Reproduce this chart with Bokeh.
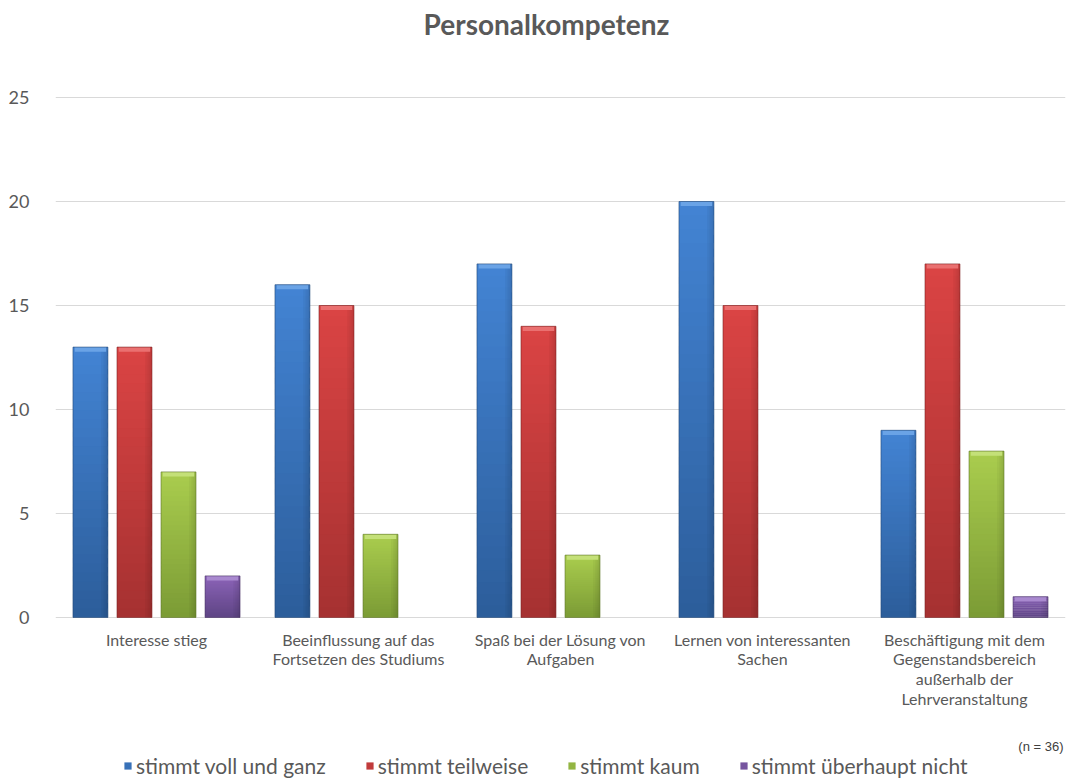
from bokeh.plotting import figure
from bokeh.models import (FactorRange, Range1d, ColumnDataSource, Legend, LegendItem,
                          Label, FixedTicker)
from bokeh.core.properties import value
from bokeh.transform import dodge
from bokeh.embed import file_html
from bokeh.resources import INLINE

# --- data -----------------------------------------------------------------
chart_title = "Personalkompetenz"
categories = [
    "Interesse stieg",
    "Beeinflussung auf das\nFortsetzen des Studiums",
    "Spaß bei der Lösung von\nAufgaben",
    "Lernen von interessanten\nSachen",
    "Beschäftigung mit dem\nGegenstandsbereich\naußerhalb der\nLehrveranstaltung",
]
series_names = ["stimmt voll und ganz", "stimmt teilweise", "stimmt kaum", "stimmt überhaupt nicht"]
stimmt_voll = [13, 16, 17, 20, 9]
stimmt_teilweise = [13, 15, 14, 15, 17]
stimmt_kaum = [7, 4, 3, 0, 8]
stimmt_nicht = [2, 0, 0, 0, 1]
y_ticks = [0, 5, 10, 15, 20, 25]
sample_note = "(n = 36)"

series_values = [stimmt_voll, stimmt_teilweise, stimmt_kaum, stimmt_nicht]
# (top colour, bottom colour, bevel colour, edge colour)
palette = [
    ("#4384d4", "#2c5d9a", "#6aa3e6", "#23497a"),
    ("#db4444", "#a53131", "#ea7070", "#7d2222"),
    ("#aacd4e", "#7b9b35", "#c4e078", "#5d7526"),
    ("#8c64b8", "#5e4484", "#a989cf", "#452f63"),
]

FONT = "Lato"
GREY = "#595959"

BAR_W = 0.173
STEP = 0.218
N_SLICES = 30

# value axis: 0..25 occupies 520 px; headroom above holds the title,
# the space below zero holds category names, note and legend
PX_PER_UNIT = 520 / 25
Y_TOP = 25 + 97 / PX_PER_UNIT
Y_BOTTOM = -163 / PX_PER_UNIT


def lerp_hex(c1, c2, t):
    a = [int(c1[i:i + 2], 16) for i in (1, 3, 5)]
    b = [int(c2[i:i + 2], 16) for i in (1, 3, 5)]
    return "#" + "".join(f"{round(x + (y - x) * t):02x}" for x, y in zip(a, b))


p = figure(
    frame_width=1010, frame_height=780,
    x_range=FactorRange(*categories), y_range=Range1d(Y_BOTTOM, Y_TOP),
    output_backend="svg", toolbar_location=None,
    min_border_left=55, min_border_right=10, min_border_top=0, min_border_bottom=0,
    background_fill_color="white", border_fill_color="white",
)
p.outline_line_color = None

p.add_layout(Label(x=len(categories) / 2, y=Y_TOP - 23 / PX_PER_UNIT, x_offset=-14,
                   text=chart_title, text_align="center", text_baseline="middle",
                   text_font=FONT, text_font_size="28px", text_font_style="bold",
                   text_color=GREY))

legend_items = []
for s, (name, vals, cols) in enumerate(zip(series_names, series_values, palette)):
    top_c, bot_c, bevel_c, edge_c = cols
    offset = (s - 1.5) * STEP
    # vertical colour gradient built from overlapping slices of each bar
    xs, bottoms, tops, colors = [], [], [], []
    for cat, v in zip(categories, vals):
        for k in range(N_SLICES):
            xs.append(cat)
            bottoms.append(v * k / N_SLICES)
            tops.append(min(v * (k + 1.6) / N_SLICES, v))
            colors.append(lerp_hex(bot_c, top_c, (k + 0.5) / N_SLICES))
    src = ColumnDataSource(dict(cat=xs, bottom=bottoms, top=tops, color=colors))
    r = p.vbar(x=dodge("cat", offset, range=p.x_range), bottom="bottom", top="top",
               width=BAR_W, fill_color="color", line_color=None, source=src)

    bar_src = ColumnDataSource(dict(cat=categories, value=vals,
                                    bevel=[max(v - 0.22, 0) for v in vals],
                                    edge_alpha=[0.6 if v > 0 else 0.0 for v in vals]))
    # darker right-hand shading
    for j, a in enumerate([0.03, 0.06, 0.09, 0.12]):
        strip = BAR_W * 0.2 / 4
        p.vbar(x=dodge("cat", offset + BAR_W / 2 - 0.2 * BAR_W + strip * (j + 0.5), range=p.x_range),
               bottom=0, top="value", width=strip, fill_color="black", fill_alpha=a,
               line_color=None, source=bar_src)
    # top bevel highlight
    p.vbar(x=dodge("cat", offset, range=p.x_range), bottom="bevel", top="value",
           width=BAR_W * 0.9, fill_color=bevel_c, line_color=None, source=bar_src)
    # outline (none for empty bars)
    p.vbar(x=dodge("cat", offset, range=p.x_range), bottom=0, top="value",
           width=BAR_W, fill_color=None, line_color=edge_c, line_alpha="edge_alpha",
           line_width=1, source=bar_src)
    legend_items.append(LegendItem(label=name, renderers=[r], index=N_SLICES // 2))

# value axis
p.yaxis.ticker = FixedTicker(ticks=y_ticks)
p.yaxis.axis_line_color = None
p.yaxis.major_tick_line_color = None
p.yaxis.minor_tick_line_color = None
p.yaxis.major_label_text_font = FONT
p.yaxis.major_label_text_font_size = "18px"
p.yaxis.major_label_text_color = GREY
p.yaxis.major_label_standoff = 20

# category names under the zero line
p.xaxis.visible = False
cat_src = ColumnDataSource(dict(cat=categories, label=categories,
                                y=[-12 / PX_PER_UNIT] * len(categories)))
p.text(x="cat", y="y", text="label", source=cat_src, text_align="center",
       text_baseline="top", text_font=value(FONT), text_font_size="16px",
       text_color=GREY, text_line_height=1.05)

p.xgrid.grid_line_color = None
p.ygrid.grid_line_color = "#d9d9d9"
p.ygrid.ticker = FixedTicker(ticks=y_ticks)

# sample size note, right-aligned
p.add_layout(Label(x=len(categories), y=-(746 - 617) / PX_PER_UNIT, x_offset=-2,
                   text=sample_note, text_align="right", text_baseline="middle",
                   text_font="Liberation Sans", text_font_size="13px", text_color="#404040"))

legend = Legend(items=legend_items, orientation="horizontal", location=(68, 2),
                glyph_width=9, glyph_height=9, label_standoff=4, spacing=39, padding=0,
                margin=0,
                label_text_font=FONT, label_text_font_size="21px", label_text_color=GREY,
                border_line_color=None, background_fill_alpha=0)
p.add_layout(legend, "center")

open("out.html", "w").write(file_html(p, INLINE))
